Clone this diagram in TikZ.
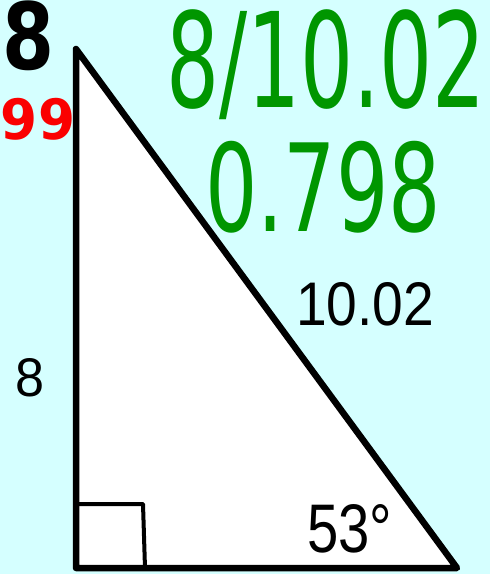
\documentclass[tikz,border=0pt]{standalone}
\usepackage{fontspec}
\usepackage{graphicx}
\setmainfont{Liberation Sans}
\newfontfamily\handfont{DejaVu Sans}
\definecolor{bgcyan}{RGB}{213,255,255}
\definecolor{handgreen}{RGB}{0,150,0}
\definecolor{handred}{RGB}{250,0,0}
\tikzset{
  lbl/.style={inner sep=0pt, outer sep=0pt, anchor=north west},
  hand/.style={lbl, font=\handfont},
  edge/.style={line width=6.5pt, line join=round, line cap=round},
}
\begin{document}
\begin{tikzpicture}[x=1pt,y=-1pt]
\fill[bgcyan] (0,0) rectangle (490,574);
\useasboundingbox (0,0) rectangle (490,574);
% triangle
\coordinate (A) at (76,49);
\coordinate (B) at (76,568);
\coordinate (C) at (457,568);
\filldraw[fill=white, draw=black, edge] (A) -- (B) -- (C) -- cycle;
% right-angle mark
\coordinate (r1) at (76,504);
\coordinate (r2) at (143,504);
\coordinate (r3) at (145,568);
\draw[line width=4pt, line cap=round, line join=round] (r1) -- (r2) -- (r3);
% printed labels
\node[lbl] (hyp) at (296,282) {\resizebox{138pt}{43pt}{10.02}};
\node[lbl] (leg) at (15,358) {\resizebox{29pt}{38pt}{8}};
\node[lbl] (ang) at (307,504) {\resizebox{85pt}{48pt}{53\textdegree}};
% handwritten notes
\node[hand, text=black, font=\handfont\bfseries] (h8) at (2,1) {\resizebox*{52pt}{70pt}{8}};
\node[hand, text=handred, font=\handfont\bfseries] (h99) at (1,98) {\resizebox*{74pt}{42pt}{99}};
\node[hand, text=handgreen] (frac) at (166,10) {\resizebox*{320pt}{110pt}{8/10.02}};
\node[hand, text=handgreen] (res) at (205,141) {\resizebox*{236pt}{92pt}{0.798}};
\end{tikzpicture}
\end{document}
